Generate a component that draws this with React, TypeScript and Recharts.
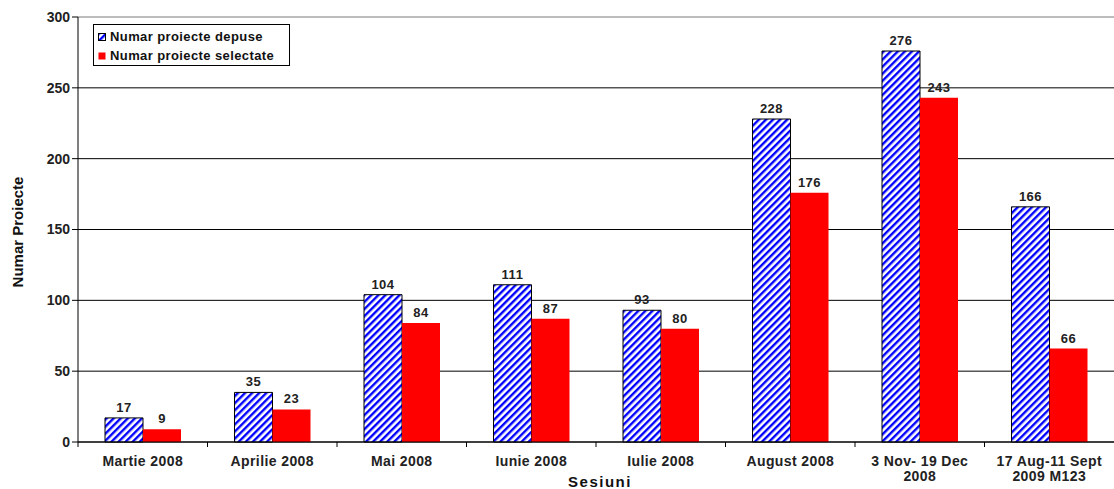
import { BarChart, Bar, XAxis, YAxis, CartesianGrid, LabelList } from 'recharts';

const sesiuni = [
    'Martie 2008',
    'Aprilie 2008',
    'Mai 2008',
    'Iunie 2008',
    'Iulie 2008',
    'August 2008',
    '3 Nov- 19 Dec\n2008',
    '17 Aug-11 Sept\n2009 M123',
];
const depuse = [17, 35, 104, 111, 93, 228, 276, 166];
const selectate = [9, 23, 84, 87, 80, 176, 243, 66];
const yTicks = [0, 50, 100, 150, 200, 250, 300];

const data = sesiuni.map((s, i) => ({ sesiune: s, depuse: depuse[i], selectate: selectate[i] }));

const W = 1114;
const H = 489;
const AXIS_W = 78;
const BAND = (W - AXIS_W) / sesiuni.length;
const FONT = '"Liberation Sans", Arial, sans-serif';

function CategoryTick({ x, y, payload }: any) {
    const lines = String(payload.value).split('\n');
    const left = x - BAND / 2;
    return (
        <g>
            <line x1={left} y1={y - 8} x2={left} y2={y - 3} stroke="#000" />
            <text x={x} y={y + 16} textAnchor="middle" fontFamily={FONT} fontSize={14} fontWeight="bold" fill="#222" letterSpacing={0.4}>
                {lines.map((l, i) => (
                    <tspan key={i} x={x} dy={i === 0 ? 0 : 15}>{l}</tspan>
                ))}
            </text>
        </g>
    );
}

function GridLine(props: any) {
    const { x1, x2, y1, y2 } = props;
    const top = y1 < 20;
    return <line x1={x1} x2={x2} y1={y1} y2={y2} stroke={top ? '#a6a6a6' : '#000'} strokeWidth={top ? 1.5 : 1} />;
}

function LegendBox() {
    const items = [
        { label: 'Numar proiecte depuse', fill: 'url(#hatch)', stroke: '#000' },
        { label: 'Numar proiecte selectate', fill: '#ff0000', stroke: 'none' },
    ];
    return (
        <div style={{ position: 'absolute', left: 93, top: 24, border: '1px solid #000', background: '#fff', width: 197, height: 42, padding: '2px 0 0 4px', boxSizing: 'border-box' }}>
            {items.map((it) => (
                <div key={it.label} style={{ display: 'flex', alignItems: 'center', height: 19 }}>
                    <svg width={8} height={8} style={{ marginRight: 4 }}>
                        <rect x={0.5} y={0.5} width={7} height={7} fill={it.fill} stroke={it.stroke} />
                    </svg>
                    <span style={{ fontFamily: FONT, fontSize: 13, fontWeight: 'bold', color: '#111', letterSpacing: 0.4, whiteSpace: 'nowrap' }}>
                        {it.label}
                    </span>
                </div>
            ))}
        </div>
    );
}

const labelStyle = { fontFamily: FONT, fontSize: 13, fontWeight: 'bold', fill: '#222', letterSpacing: 0.5 };

export default function App() {
    return (
        <div style={{ position: 'fixed', left: 0, top: 0, width: W, height: H, background: '#fff' }}>
            <BarChart width={W} height={H} data={data} margin={{ top: 17, right: 0, bottom: 0, left: 0 }} barGap={0} barSize={38}>
                <defs>
                    <pattern id="hatch" width={5} height={5} patternUnits="userSpaceOnUse" patternTransform="rotate(45)">
                        <rect width={5} height={5} fill="#fff" />
                        <rect width={2.4} height={5} fill="#0000ff" />
                    </pattern>
                </defs>
                <CartesianGrid vertical={false} horizontal={GridLine} />
                <XAxis
                    dataKey="sesiune"
                    height={47}
                    interval={0}
                    tickLine={false}
                    axisLine={{ stroke: '#000' }}
                    tick={<CategoryTick />}
                    label={{
                        content: () => (
                            <text x={600} y={487} textAnchor="middle" fontFamily={FONT} fontSize={15} fontWeight="bold" fill="#111" letterSpacing={1.5}>
                                Sesiuni
                            </text>
                        ),
                    }}
                />
                <YAxis
                    width={AXIS_W}
                    domain={[0, 300]}
                    ticks={yTicks}
                    interval={0}
                    axisLine={{ stroke: '#000' }}
                    tickLine={{ stroke: '#000' }}
                    tickSize={6}
                    tick={{ fontFamily: FONT, fontSize: 14, fontWeight: 'bold', fill: '#222' }}
                    label={{
                        content: () => (
                            <text x={23} y={232} transform="rotate(-90 23 232)" textAnchor="middle" fontFamily={FONT} fontSize={15} fontWeight="bold" fill="#111">
                                Numar Proiecte
                            </text>
                        ),
                    }}
                />
                <Bar dataKey="depuse" name="Numar proiecte depuse" fill="url(#hatch)" stroke="#000" strokeWidth={1} isAnimationActive={false}>
                    <LabelList dataKey="depuse" position="top" offset={6} style={labelStyle} />
                </Bar>
                <Bar dataKey="selectate" name="Numar proiecte selectate" fill="#ff0000" isAnimationActive={false}>
                    <LabelList dataKey="selectate" position="top" offset={6} style={labelStyle} />
                </Bar>
            </BarChart>
            <LegendBox />
        </div>
    );
}
